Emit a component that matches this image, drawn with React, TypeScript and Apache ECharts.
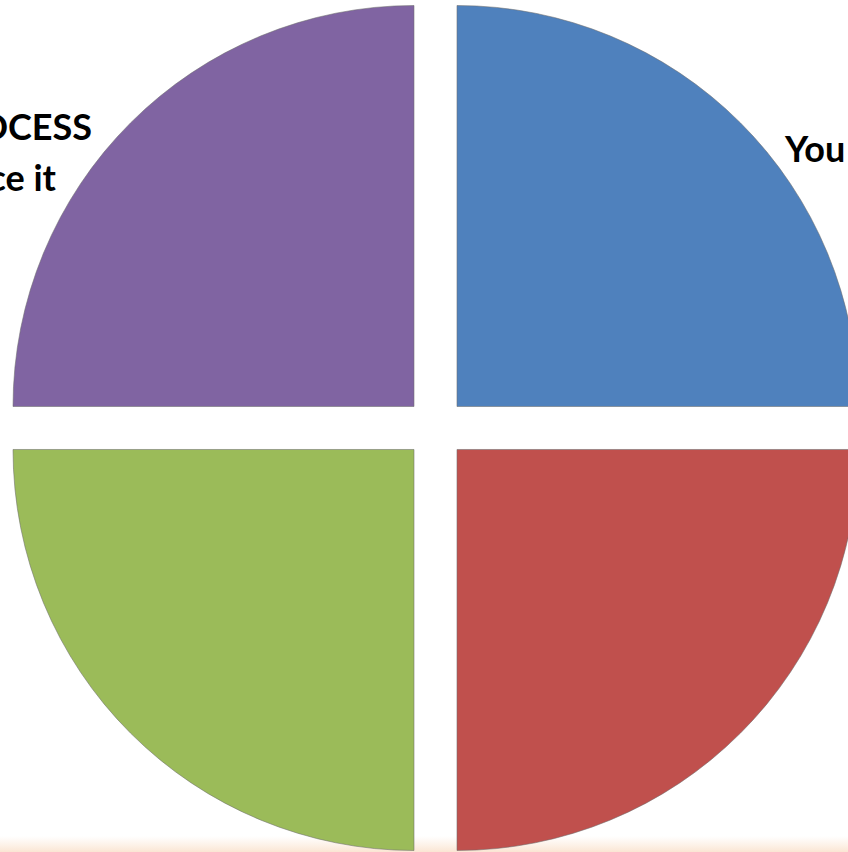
import React, { useEffect, useRef } from 'react';
import * as echarts from 'echarts';

// ---- data ----
const sliceNames = ['You', 'Quadrant 2', 'Quadrant 3', 'Trust the PROCESS'];
const sliceValues = [25, 25, 25, 25];
const sliceColors = ['#4F81BD', '#C0504D', '#9BBB59', '#8064A2'];
const youLabel = 'You';
const processLines = ['Trust the PROCESS', 'Embrace it'];

export default function App() {
  const ref = useRef<HTMLDivElement | null>(null);

  useEffect(() => {
    if (!ref.current) return;
    const chart = echarts.init(ref.current, undefined, { renderer: 'svg' });

    const font = {
      fontFamily: 'Lato, "Open Sans", sans-serif',
      fontWeight: 'bold' as const,
      fontSize: 36,
      fill: '#000',
    };

    chart.setOption({
      animation: false,
      backgroundColor: '#ffffff',
      graphic: [
        {
          type: 'rect',
          z: 0,
          silent: true,
          shape: { x: 0, y: 836, width: 848, height: 16 },
          style: {
            fill: new echarts.graphic.LinearGradient(0, 0, 0, 1, [
              { offset: 0, color: 'rgba(252,232,214,0)' },
              { offset: 1, color: 'rgba(250,226,206,0.9)' },
            ]),
          },
        },
        {
          type: 'text',
          z: 10,
          x: 785,
          y: 148,
          style: { ...font, text: youLabel, textAlign: 'left', textVerticalAlign: 'middle' },
        },
        {
          type: 'text',
          z: 10,
          x: 92,
          y: 126,
          style: { ...font, text: processLines[0], textAlign: 'right', textVerticalAlign: 'middle' },
        },
        {
          type: 'text',
          z: 10,
          x: 56,
          y: 177,
          style: { ...font, text: processLines[1], textAlign: 'right', textVerticalAlign: 'middle' },
        },
      ],
      series: [
        {
          type: 'pie',
          center: [435.5, 428],
          radius: [0, 401],
          startAngle: 90,
          clockwise: true,
          selectedMode: 'multiple',
          selectedOffset: 30.4,
          avoidLabelOverlap: false,
          emphasis: { disabled: true },
          itemStyle: { borderColor: 'rgba(110,110,110,0.55)', borderWidth: 1 },
          label: { show: false },
          labelLine: { show: false },
          data: sliceValues.map((v, i) => ({
            value: v,
            name: sliceNames[i],
            selected: true,
            itemStyle: { color: sliceColors[i] },
            select: { itemStyle: { color: sliceColors[i] } },
          })),
        },
      ],
    });

    return () => chart.dispose();
  }, []);

  return (
    <div
      ref={ref}
      style={{ position: 'fixed', left: 0, top: 0, width: 848, height: 852, overflow: 'hidden' }}
    />
  );
}
